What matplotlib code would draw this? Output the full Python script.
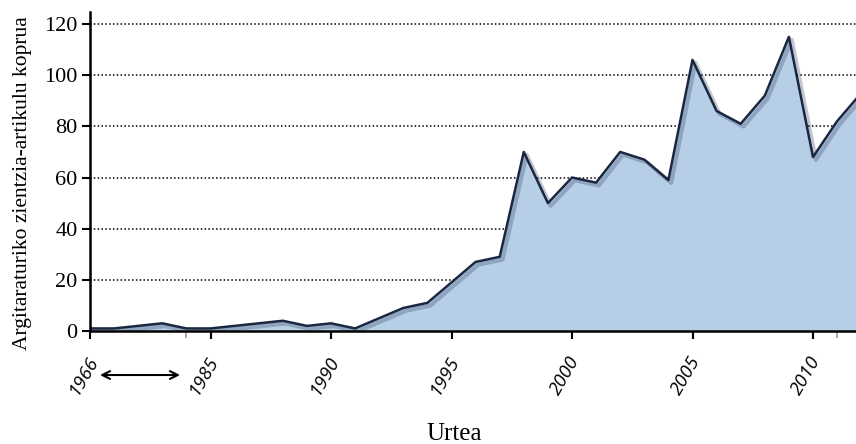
import matplotlib
matplotlib.use("Agg")
import matplotlib.pyplot as plt
import matplotlib.patheffects as pe
from matplotlib.transforms import blended_transform_factory, ScaledTranslation

years = [1966, 1981, 1982, 1983, 1984, 1985, 1986, 1987, 1988, 1989, 1990,
         1991, 1992, 1993, 1994, 1995, 1996, 1997, 1998, 1999, 2000, 2001,
         2002, 2003, 2004, 2005, 2006, 2007, 2008, 2009, 2010, 2011, 2012]
counts = [1, 1, 2, 3, 1, 1, 2, 3, 4, 2, 3,
          1, 5, 9, 11, 19, 27, 29, 70, 50, 60, 58,
          70, 67, 59, 106, 86, 81, 92, 115, 68, 82, 93]
tick_years = [1966, 1985, 1990, 1995, 2000, 2005, 2010]
y_ticks = [0, 20, 40, 60, 80, 100, 120]
x_label = "Urtea"
y_label = "Argitaraturiko zientzia-artikulu koprua"

# 1966 is drawn at the position of 1980 (axis break)
def pos(y):
    return 1980 if y < 1980 else y

xs = [pos(y) for y in years]

fig = plt.figure(figsize=(8.56, 4.44), dpi=100)
ax = fig.add_axes([90/856, (444-331)/444, 1 - 90/856, (331-12)/444])

ax.set_xlim(1980, 1980 + (856-90)/24.1)
ax.set_ylim(0, 124.7)

for v in y_ticks[1:]:
    ax.axhline(v, color='black', linestyle=(0, (1, 1.5)), linewidth=1.1, zorder=1)

ax.fill_between(xs, counts, 0, color='#b7cfe6', zorder=2, linewidth=0)
ax.plot(xs, counts, color='#1b2740', linewidth=1.8, zorder=3,
        path_effects=[pe.SimpleLineShadow(offset=(2, -2), shadow_color='#334466', alpha=0.3, linewidth=3),
                      pe.Normal()])

for s in ['top', 'right']:
    ax.spines[s].set_visible(False)
for s in ['left', 'bottom']:
    ax.spines[s].set_linewidth(1.8)
    ax.spines[s].set_zorder(4)

ax.set_yticks(y_ticks)
ax.set_yticklabels([str(v) for v in y_ticks], fontfamily='Liberation Serif', fontsize=16)
ax.tick_params(axis='y', direction='out', length=6, width=1.5, pad=3)

ax.set_xticks([pos(y) for y in tick_years])
ax.set_xticklabels([str(y) for y in tick_years], rotation=60, ha='center', va='top',
                   fontfamily='Open Sans', fontstyle='italic', fontsize=13.5)
ax.tick_params(axis='x', direction='out', length=6, width=1.5, pad=7)
shift = ScaledTranslation(-7/100, -4/100, fig.dpi_scale_trans)
for lab in ax.get_xticklabels():
    lab.set_transform(lab.get_transform() + shift)
ax.set_xticks([1984, 2011], minor=True)
ax.tick_params(axis='x', which='minor', direction='out', length=5, width=1.2, color='#999999')

ax.set_ylabel(y_label, fontfamily='Liberation Serif', fontsize=15.5)
ax.yaxis.set_label_coords(-0.0757, 0.464)

trans = blended_transform_factory(ax.transData, ax.transAxes)
ax.annotate('', xy=(1980.3, -0.138), xytext=(1983.85, -0.138), xycoords=trans, textcoords=trans,
            arrowprops=dict(arrowstyle='<->', color='black', lw=1.5, mutation_scale=14),
            annotation_clip=False)

fig.text(454/856, 1 - 434/444, x_label, ha='center', va='center',
         fontfamily='Liberation Serif', fontsize=18)

fig.savefig('out.png', dpi=100)
